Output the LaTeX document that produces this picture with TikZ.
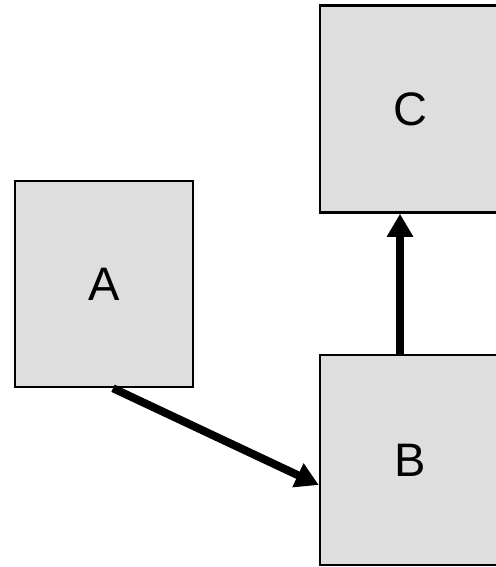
\documentclass[tikz,border=0pt]{standalone}
\usepackage{fontspec}
\setmainfont{Liberation Sans}
\usetikzlibrary{arrows.meta,calc}
\begin{document}
\begin{tikzpicture}[x=1pt,y=-1pt,
  blockbox/.style={draw=black,line width=2.5pt,fill=black!13,rectangle,inner sep=0pt,font=\fontsize{47}{47}\selectfont},
  conn/.style={line width=8pt,-{Triangle[length=23pt,width=25pt]}}]
\useasboundingbox (0,0) rectangle (495,567);
\node[blockbox,minimum width=178pt,minimum height=206pt] (A) at (104,284) {A};
\node[blockbox,minimum width=180pt,minimum height=207pt] (C) at (410,109) {C};
\node[blockbox,minimum width=180pt,minimum height=210pt] (B) at (410,460) {B};
\draw[conn] ($(A.south)+(9,0)$) -- ($(B.west)+(0,25)$);
\draw[conn] ($(B.north)+(-10,0)$) -- ($(C.south)+(-10,0)$);
\end{tikzpicture}
\end{document}
